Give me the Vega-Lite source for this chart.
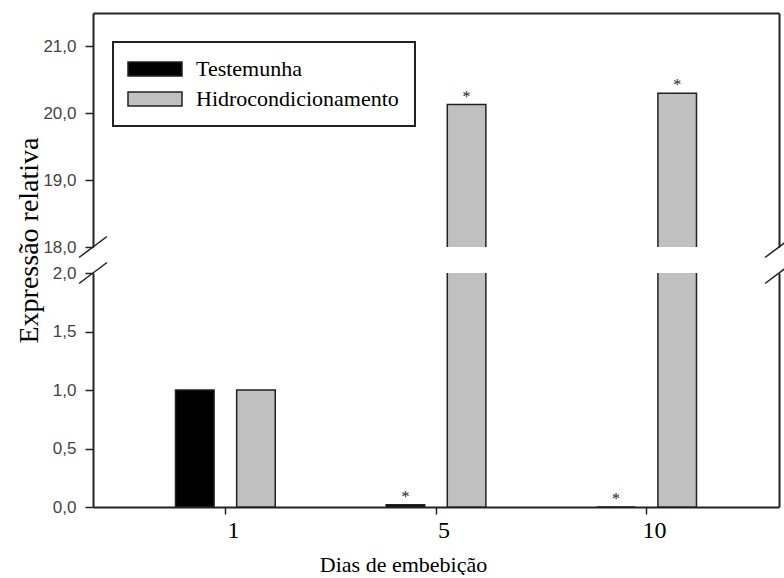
{
  "$schema": "https://vega.github.io/schema/vega-lite/v6.json",
  "padding": {"left": 15, "top": 13, "right": 0, "bottom": 0},
  "bounds": "flush",
  "spacing": 26,
  "background": "white",
  "resolve": {"scale": {"color": "independent"}, "legend": {"color": "independent"}},
  "config": {
    "view": {"stroke": null},
    "font": "Liberation Serif",
    "legend": {"strokeWidth": 2},
    "axis": {
      "grid": false,
      "domainColor": "#222",
      "domainWidth": 2,
      "tickColor": "#222",
      "tickWidth": 1.5,
      "tickSize": 8,
      "labelFont": "Liberation Sans",
      "labelFontSize": 17,
      "labelColor": "#444",
      "labelPadding": 9
    }
  },
  "datasets": {
    "d": [
      {"dia": "1", "grupo": "Testemunha", "valor": 1.0, "sig": ""},
      {"dia": "1", "grupo": "Hidrocondicionamento", "valor": 1.0, "sig": ""},
      {"dia": "5", "grupo": "Testemunha", "valor": 0.02, "sig": "*"},
      {"dia": "5", "grupo": "Hidrocondicionamento", "valor": 20.13, "sig": "*"},
      {"dia": "10", "grupo": "Testemunha", "valor": 0.0, "sig": "*"},
      {"dia": "10", "grupo": "Hidrocondicionamento", "valor": 20.3, "sig": "*"}
    ],
    "quebra_sup": [{"quebra": 18}],
    "quebra_inf": [{"quebra": 2}]
  },
  "vconcat": [
    {
      "width": 686,
      "height": 234,
      "resolve": {"scale": {"y": "independent"}, "axis": {"y": "independent"}},
      "layer": [
        {
          "data": {"name": "d"},
          "mark": {"type": "bar", "clip": true, "stroke": "#222", "strokeWidth": 1.5},
          "encoding": {
            "x": {"field": "dia", "type": "nominal", "sort": ["1", "5", "10"],
                  "scale": {"paddingInner": 0.419, "paddingOuter": 0.338},
                  "axis": {"orient": "top", "labels": false, "ticks": false, "title": null}},
            "xOffset": {"field": "grupo", "type": "nominal", "sort": ["Testemunha", "Hidrocondicionamento"],
                        "scale": {"paddingInner": 0.369, "paddingOuter": 0.185}},
            "y": {"field": "valor", "type": "quantitative",
                  "scale": {"domain": [18, 21.5], "nice": false, "zero": false},
                  "axis": {"orient": "left", "values": [18, 19, 20, 21], "title": null,
                           "labelExpr": "replace(format(datum.value, '.1f'), '.', ',')"}},
            "color": {"field": "grupo", "type": "nominal", "sort": ["Testemunha", "Hidrocondicionamento"],
                      "scale": {"range": ["#000000", "#c0c0c0"]},
                      "legend": {
                        "orient": "none", "legendX": 20, "legendY": 29, "title": null,
                        "direction": "vertical", "padding": 16,
                        "strokeColor": "#222", "fillColor": "white",
                        "symbolType": "M-2.4,-1.4L8.4,-1.4L8.4,1.4L-2.4,1.4Z", "symbolSize": 100,
                        "symbolStrokeColor": "#222", "symbolStrokeWidth": 1.5, "symbolOpacity": 1,
                        "labelFont": "Liberation Serif", "labelFontSize": 22, "labelColor": "black",
                        "labelOffset": 45, "rowPadding": 8, "labelLimit": 400
                      }}
          }
        },
        {
          "data": {"name": "d"},
          "transform": [{"filter": "datum.valor >= 18 && datum.sig != ''"}],
          "mark": {"type": "text", "baseline": "alphabetic", "dy": -3, "fontSize": 16, "color": "#222", "font": "Liberation Serif"},
          "encoding": {
            "x": {"field": "dia", "type": "nominal", "sort": ["1", "5", "10"]},
            "xOffset": {"field": "grupo", "type": "nominal", "sort": ["Testemunha", "Hidrocondicionamento"]},
            "y": {"field": "valor", "type": "quantitative",
                  "scale": {"domain": [18, 21.5], "nice": false, "zero": false}, "axis": null},
            "text": {"field": "sig"}
          }
        },
        {
          "data": {"name": "quebra_sup"},
          "mark": {"type": "point", "shape": "M-1,0.75L1,-0.75", "size": 784, "filled": false, "color": "#222", "strokeWidth": 1.5, "opacity": 1, "x": 0},
          "encoding": {
            "y": {"field": "quebra", "type": "quantitative",
                  "scale": {"domain": [18, 21.5], "nice": false, "zero": false}, "axis": null}
          }
        },
        {
          "data": {"name": "quebra_sup"},
          "mark": {"type": "point", "shape": "M-1,0.75L1,-0.75", "size": 784, "filled": false, "color": "#222", "strokeWidth": 1.5, "opacity": 1, "x": "width"},
          "encoding": {
            "y": {"field": "quebra", "type": "quantitative",
                  "scale": {"domain": [18, 21.5], "nice": false, "zero": false},
                  "axis": {"orient": "right", "labels": false, "ticks": false, "title": null}}
          }
        }
      ]
    },
    {
      "width": 686,
      "height": 234,
      "resolve": {"scale": {"y": "independent"}, "axis": {"y": "independent"}},
      "layer": [
        {
          "data": {"name": "d"},
          "mark": {"type": "bar", "clip": true, "stroke": "#222", "strokeWidth": 1.5},
          "encoding": {
            "x": {"field": "dia", "type": "nominal", "sort": ["1", "5", "10"],
                  "scale": {"paddingInner": 0.419, "paddingOuter": 0.338},
                  "axis": {"orient": "bottom", "labelFont": "Liberation Serif", "labelFontSize": 24,
                           "labelColor": "black", "labelAngle": 0, "tickSize": 7, "labelPadding": 4,
                           "labelOffset": 8, "title": "Dias de embebição", "titleFont": "Liberation Serif",
                           "titleFontSize": 22, "titleFontWeight": "normal", "titleColor": "black",
                           "titlePadding": 12, "titleX": 310, "titleAlign": "center"}},
            "xOffset": {"field": "grupo", "type": "nominal", "sort": ["Testemunha", "Hidrocondicionamento"],
                        "scale": {"paddingInner": 0.369, "paddingOuter": 0.185}},
            "y": {"field": "valor", "type": "quantitative",
                  "scale": {"domain": [0, 2], "nice": false},
                  "axis": {"orient": "left", "values": [0, 0.5, 1, 1.5, 2],
                           "labelExpr": "replace(format(datum.value, '.1f'), '.', ',')",
                           "title": "Expressão relativa", "titleFont": "Liberation Serif",
                           "titleFontSize": 28, "titleFontWeight": "normal", "titleColor": "black",
                           "titleAngle": -90, "titleAlign": "center", "titleBaseline": "alphabetic",
                           "titleX": -56, "titleY": -33}},
            "color": {"field": "grupo", "type": "nominal", "sort": ["Testemunha", "Hidrocondicionamento"],
                      "scale": {"range": ["#000000", "#c0c0c0"]}, "legend": null}
          }
        },
        {
          "data": {"name": "d"},
          "transform": [{"filter": "datum.valor < 2 && datum.sig != ''"}],
          "mark": {"type": "text", "baseline": "alphabetic", "dy": -3, "fontSize": 16, "color": "#222", "font": "Liberation Serif"},
          "encoding": {
            "x": {"field": "dia", "type": "nominal", "sort": ["1", "5", "10"]},
            "xOffset": {"field": "grupo", "type": "nominal", "sort": ["Testemunha", "Hidrocondicionamento"]},
            "y": {"field": "valor", "type": "quantitative",
                  "scale": {"domain": [0, 2], "nice": false}, "axis": null},
            "text": {"field": "sig"}
          }
        },
        {
          "data": {"name": "quebra_inf"},
          "mark": {"type": "point", "shape": "M-1,0.75L1,-0.75", "size": 784, "filled": false, "color": "#222", "strokeWidth": 1.5, "opacity": 1, "x": 0},
          "encoding": {
            "y": {"field": "quebra", "type": "quantitative",
                  "scale": {"domain": [0, 2], "nice": false}, "axis": null}
          }
        },
        {
          "data": {"name": "quebra_inf"},
          "mark": {"type": "point", "shape": "M-1,0.75L1,-0.75", "size": 784, "filled": false, "color": "#222", "strokeWidth": 1.5, "opacity": 1, "x": "width"},
          "encoding": {
            "y": {"field": "quebra", "type": "quantitative",
                  "scale": {"domain": [0, 2], "nice": false},
                  "axis": {"orient": "right", "labels": false, "ticks": false, "title": null}}
          }
        }
      ]
    }
  ]
}
